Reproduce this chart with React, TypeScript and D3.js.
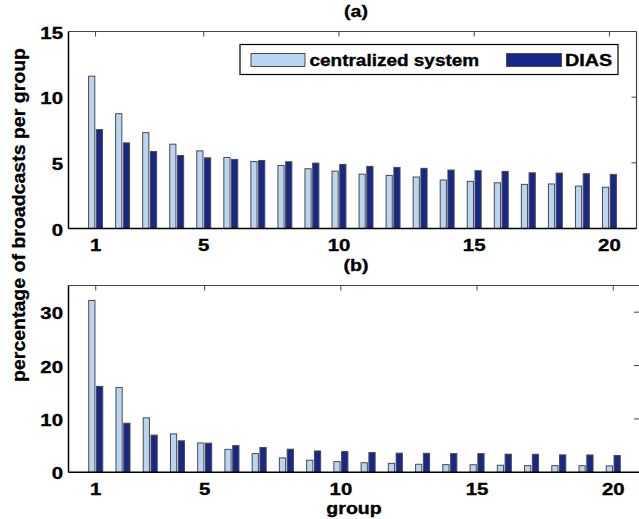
import * as d3 from "d3";

// groups 1..20
const groups = d3.range(1, 21);
const xTickVals = [1, 5, 10, 15, 20];

// panel (a)
const centralA = [11.6, 8.74, 7.3, 6.42, 5.91, 5.41, 5.1, 4.8, 4.55, 4.37, 4.14, 4.04, 3.92, 3.69, 3.59, 3.48, 3.36, 3.39, 3.23, 3.14];
const diasA = [7.53, 6.52, 5.86, 5.56, 5.38, 5.26, 5.18, 5.08, 4.98, 4.88, 4.73, 4.65, 4.58, 4.45, 4.4, 4.35, 4.24, 4.22, 4.17, 4.12];
const yTicksA = [0, 5, 10, 15];

// panel (b)
const centralB = [32.2, 15.9, 10.2, 7.2, 5.5, 4.3, 3.5, 2.7, 2.26, 2.0, 1.8, 1.68, 1.5, 1.44, 1.42, 1.32, 1.26, 1.25, 1.24, 1.2];
const diasB = [16.1, 9.2, 6.97, 5.9, 5.46, 5.0, 4.65, 4.33, 4.0, 3.9, 3.7, 3.58, 3.56, 3.5, 3.5, 3.4, 3.38, 3.26, 3.25, 3.14];
const yTicksB = [0, 10, 20, 30];

const seriesNames = ["centralized system", "DIAS"];
const LIGHT = "#b9d5f2";
const DARK = "#17288a";
const EDGE = "#4a4a4a";
const FONT = "'Liberation Sans', Arial, sans-serif";

// bold, horizontally stretched text anchored at (x, y) (the original figure is stretched)
function SText({ x, y, anchor = "middle", size = 17, sx = 1.15, children }: { x: number; y: number; anchor?: "start" | "middle" | "end"; size?: number; sx?: number; children: string }) {
  return (
    <text transform={`translate(${x},${y}) scale(${sx},1)`} textAnchor={anchor} fontFamily={FONT} fontWeight="bold" fontSize={size} fill="#000" stroke="#000" strokeWidth={0.35}>
      {children}
    </text>
  );
}

function Panel({ central, dias, yMax, yTicks, x0, x1, y0, y1, title, titleY, showRight }: {
  central: number[]; dias: number[]; yMax: number; yTicks: number[];
  x0: number; x1: number; y0: number; y1: number; title: string; titleY: number; showRight: boolean;
}) {
  const x = d3.scaleLinear().domain([0, 21]).range([x0, x1]);
  const y = d3.scaleLinear().domain([0, yMax]).range([y0, y1]);
  const unit = x(1) - x(0);
  const bw = 0.229 * unit;
  const off = 0.143 * unit;
  const tl = 5;
  return (
    <g>
      <SText x={356} y={titleY}>{title}</SText>
      {groups.map((g, i) => (
        <g key={g}>
          <rect x={x(g) - off - bw / 2} y={y(central[i])} width={bw} height={y0 - y(central[i])} fill={LIGHT} stroke={EDGE} strokeWidth={1} />
          <rect x={x(g) + off - bw / 2} y={y(dias[i])} width={bw} height={y0 - y(dias[i])} fill={DARK} stroke={EDGE} strokeWidth={1} />
        </g>
      ))}
      {/* box */}
      <line x1={x0} x2={x1} y1={y1} y2={y1} stroke="#444" strokeWidth={1.2} />
      {showRight && <line x1={x1} x2={x1} y1={y1} y2={y0} stroke="#444" strokeWidth={1.2} />}
      <line x1={x0} x2={x1} y1={y0} y2={y0} stroke="#000" strokeWidth={1.5} />
      <line x1={x0} x2={x0} y1={y1} y2={y0} stroke="#000" strokeWidth={1.5} />
      {xTickVals.map((t) => (
        <g key={t}>
          <line x1={x(t)} x2={x(t)} y1={y1} y2={y1 + tl} stroke="#444" />
          <SText x={x(t)} y={y0 + 22.5} sx={1.2}>{String(t)}</SText>
        </g>
      ))}
      {yTicks.map((t) => (
        <g key={t}>
          {t > 0 && t < yMax && <line x1={Math.min(x1, 639)} x2={Math.min(x1, 639) - tl} y1={y(t)} y2={y(t)} stroke="#444" />}
          <SText x={63} y={y(t) + 7} anchor="end" sx={1.2}>{String(t)}</SText>
        </g>
      ))}
    </g>
  );
}

export default function App() {
  return (
    <svg width={639} height={519} style={{ position: "fixed", left: 0, top: 0, background: "#fff" }}>
      <rect width={639} height={519} fill="#fff" />
      <Panel central={centralA} dias={diasA} yMax={15} yTicks={yTicksA} x0={68.5} x1={636.5} y0={228.5} y1={31.5} title="(a)" titleY={17} showRight />
      <Panel central={centralB} dias={diasB} yMax={35} yTicks={yTicksB} x0={68.5} x1={640.5} y0={472.3} y1={285.5} title="(b)" titleY={271} showRight={false} />
      {/* legend */}
      <rect x={240} y={44.5} width={378} height={30} fill="#fff" stroke="#000" strokeWidth={1.2} />
      <rect x={251} y={53.5} width={54} height={13} fill={LIGHT} stroke={EDGE} />
      <SText x={309.5} y={66} anchor="start" size={16.5}>{seriesNames[0]}</SText>
      <rect x={506.5} y={53.5} width={55} height={13} fill={DARK} stroke={EDGE} />
      <SText x={565} y={66} anchor="start" size={16.5} sx={1.2}>{seriesNames[1]}</SText>
      {/* axis labels */}
      <text transform="translate(25,215) rotate(-90)" textAnchor="middle" fontFamily={FONT} fontWeight="bold" fontSize={18} stroke="#000" strokeWidth={0.3} textLength={334} lengthAdjust="spacingAndGlyphs">
        percentage of broadcasts per group
      </text>
      <SText x={354} y={514}>group</SText>
    </svg>
  );
}
